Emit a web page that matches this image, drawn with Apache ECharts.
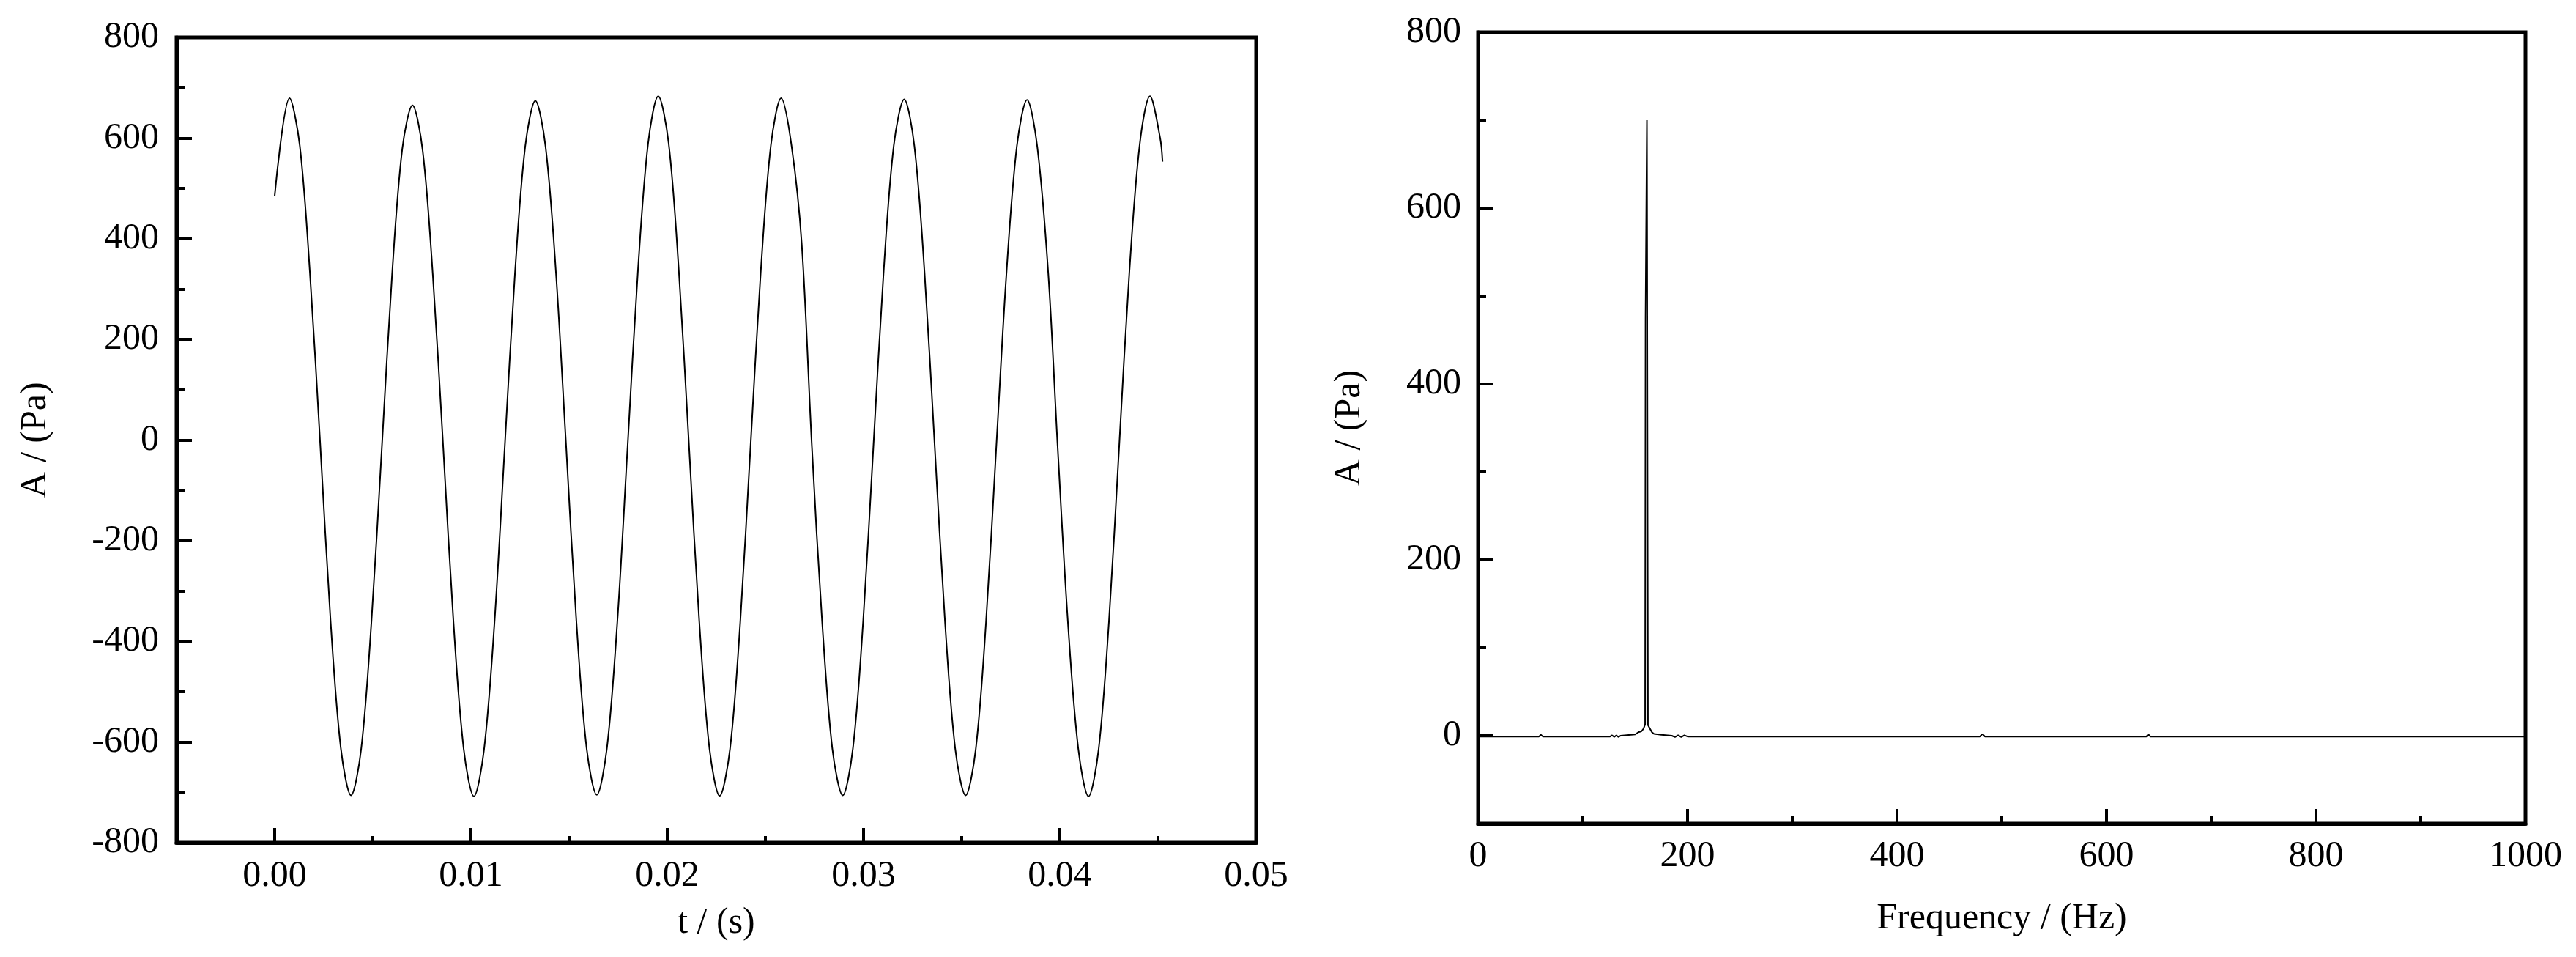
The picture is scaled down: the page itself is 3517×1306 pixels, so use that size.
<!DOCTYPE html>
<html>
<head>
<meta charset="utf-8">
<script src="https://cdn.jsdelivr.net/npm/echarts@6/dist/echarts.min.js"></script>
<style>
html,body{margin:0;padding:0;background:#fff;}
#c{width:3517px;height:1306px;}
</style>
</head>
<body>
<div id="c"></div>
<script>
// ---- Left panel: time signal ----
const timeS = [0.00000,
  0.00076,0.00128,0.00180,0.00233,0.00285,0.00337,0.00389,0.00441,0.00493,0.00546,0.00598,0.00650,
  0.00702,0.00754,0.00806,0.00859,0.00911,0.00963,0.01015,0.01067,0.01120,0.01172,0.01224,0.01276,
  0.01328,0.01380,0.01433,0.01485,0.01537,0.01589,0.01641,0.01693,0.01746,0.01798,0.01850,0.01902,
  0.01954,0.02007,0.02059,0.02111,0.02163,0.02215,0.02267,0.02320,0.02372,0.02424,0.02476,0.02528,
  0.02580,0.02633,0.02685,0.02737,0.02789,0.02841,0.02894,0.02946,0.02998,0.03050,0.03102,0.03154,
  0.03207,0.03259,0.03311,0.03363,0.03415,0.03467,0.03520,0.03572,0.03624,0.03676,0.03728,0.03781,
  0.03833,0.03885,0.03941,0.03989,0.04041,0.04094,0.04146,0.04198,0.04250,0.04302,0.04354,0.04407,
  0.04459,0.04511,0.04523];
const ampPa = [485,
  679,585,330,-14,-360,-612,-706,-613,-361,-15,328,578,
  665,575,326,-16,-362,-614,-708,-614,-362,-15,330,582,
  674,583,333,-13,-360,-612,-705,-611,-359,-13,333,588,
  683,590,336,-12,-360,-613,-707,-613,-361,-14,332,586,
  679,585,390,-14,-361,-613,-706,-612,-360,-14,332,585,
  677,584,331,-15,-361,-613,-706,-613,-361,-15,331,584,
  676,583,331,-15,-362,-614,-708,-613,-361,-14,333,588,
  683,600,553];

// ---- Right panel: spectrum ----
const freqHz = [0,20,40,58,60,62,80,100,120,126,128,130,132,134,136,150,153,156,158,159.5,159.9,161.2,162.2,163.5,166,168,175,185,188,191,194,197,200,250,300,400,479,481.5,484,500,600,638,640,642,700,800,900,1000];
const specPa = [-1,-1,-1,-1,1,-1,-1,-1,-1,-1,0.5,-1.5,0.5,-1.5,0,1.5,4,5,8,13,475,700,12,12,4,2,1,0,-1.5,0.5,-1.5,0.5,-1,-1,-1,-1,-1,2,-1,-1,-1,-1,1.5,-1,-1,-1,-1,-1];

// tick label lists
const leftXLabels = [0,0.01,0.02,0.03,0.04,0.05];
const leftXMinor = [0.005,0.015,0.025,0.035,0.045];
const rightYLabels = [0,200,400,600,800];
const rightYMinor = [100,300,500,700];

const FONT = 'Liberation Serif';
const black = '#000';
const lblStyle = {color: black, fontFamily: FONT, fontSize: 50};
const nameStyle = {color: black, fontFamily: FONT, fontSize: 50};

const chart = echarts.init(document.getElementById('c'), null, {renderer: 'canvas'});
const option = {
  backgroundColor: '#fff',
  animation: false,
  grid: [
    {left: 241, top: 51, width: 1474, height: 1099, show: true, borderColor: black, borderWidth: 5, containLabel: false},
    {left: 2018, top: 44, width: 1430, height: 1080, show: true, borderColor: black, borderWidth: 5, containLabel: false}
  ],
  xAxis: [
    {
      gridIndex: 0, type: 'value', min: -0.005, max: 0.05,
      name: 't / (s)', nameLocation: 'middle', nameGap: 85, nameTextStyle: nameStyle,
      axisLine: {show: true, onZero: false, lineStyle: {color: black, width: 5}},
      axisTick: {show: true, inside: true, length: 20, lineStyle: {color: black, width: 4}, customValues: leftXLabels},
      axisLabel: Object.assign({margin: 21, customValues: leftXLabels, formatter: v => v.toFixed(2)}, lblStyle),
      splitLine: {show: false}
    },
    {
      gridIndex: 0, type: 'value', min: -0.005, max: 0.05, position: 'bottom',
      axisLine: {show: false, onZero: false},
      axisTick: {show: true, inside: true, length: 9, lineStyle: {color: black, width: 4}, customValues: leftXMinor},
      axisLabel: {show: false, customValues: leftXMinor},
      splitLine: {show: false}
    },
    {
      gridIndex: 1, type: 'value', min: 0, max: 1000, interval: 200,
      name: 'Frequency / (Hz)', nameLocation: 'middle', nameGap: 105, nameTextStyle: nameStyle,
      axisLine: {show: true, onZero: false, lineStyle: {color: black, width: 5}},
      axisTick: {show: true, inside: true, length: 20, lineStyle: {color: black, width: 4}},
      minorTick: {show: true, splitNumber: 2, length: 10, lineStyle: {color: black, width: 4}},
      axisLabel: Object.assign({margin: 20, formatter: v => String(v)}, lblStyle),
      splitLine: {show: false}, minorSplitLine: {show: false}
    }
  ],
  yAxis: [
    {
      gridIndex: 0, type: 'value', min: -800, max: 800, interval: 200,
      name: 'A / (Pa)', nameLocation: 'middle', nameGap: 167, nameTextStyle: nameStyle,
      axisLine: {show: true, onZero: false, lineStyle: {color: black, width: 5}},
      axisTick: {show: true, inside: true, length: 21, lineStyle: {color: black, width: 4}},
      minorTick: {show: true, splitNumber: 2, length: 11, lineStyle: {color: black, width: 4}},
      axisLabel: Object.assign({margin: 24, formatter: v => String(v)}, lblStyle),
      splitLine: {show: false}, minorSplitLine: {show: false}
    },
    {
      gridIndex: 1, type: 'value', min: -100, max: 800,
      name: 'A / (Pa)', nameLocation: 'middle', nameGap: 150, nameTextStyle: nameStyle,
      axisLine: {show: true, onZero: false, lineStyle: {color: black, width: 5}},
      axisTick: {show: true, inside: true, length: 20, lineStyle: {color: black, width: 4}, customValues: rightYLabels},
      axisLabel: Object.assign({margin: 23, customValues: rightYLabels, formatter: v => String(v)}, lblStyle),
      splitLine: {show: false}
    },
    {
      gridIndex: 1, type: 'value', min: -100, max: 800, position: 'left',
      axisLine: {show: false, onZero: false},
      axisTick: {show: true, inside: true, length: 11, lineStyle: {color: black, width: 4}, customValues: rightYMinor},
      axisLabel: {show: false, customValues: rightYMinor},
      splitLine: {show: false}
    }
  ],
  series: [
    {
      type: 'line', xAxisIndex: 0, yAxisIndex: 0,
      data: timeS.map((t, i) => [t, ampPa[i]]),
      smooth: 0.33, showSymbol: false, symbol: 'none',
      lineStyle: {color: black, width: 2}
    },
    {
      type: 'line', xAxisIndex: 2, yAxisIndex: 1,
      data: freqHz.map((f, i) => [f, specPa[i]]),
      showSymbol: false, symbol: 'none',
      lineStyle: {color: black, width: 2}
    }
  ]
};
chart.setOption(option);
</script>
</body>
</html>
